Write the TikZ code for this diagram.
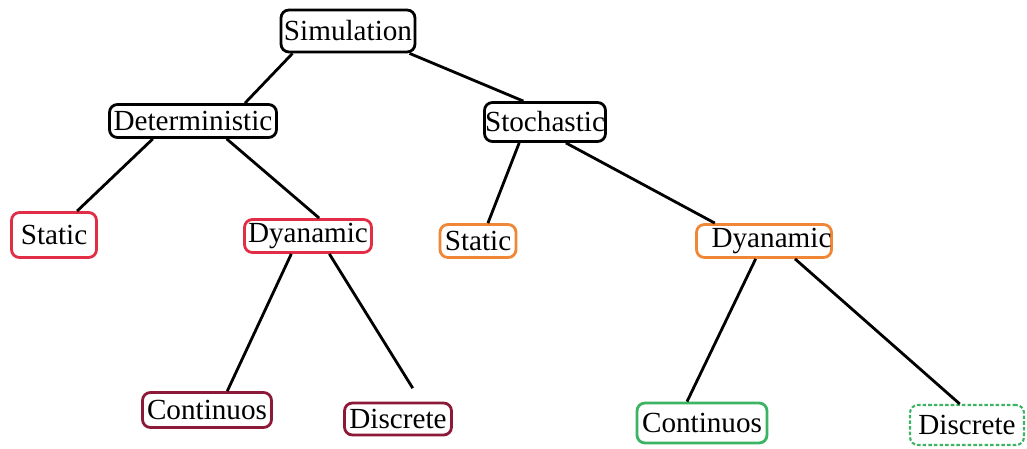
\documentclass[tikz,border=0pt]{standalone}
\usepackage{fontspec}
\setmainfont{Liberation Serif}
\definecolor{boxred}{RGB}{225, 45, 70}
\definecolor{boxorange}{RGB}{240, 135, 55}
\definecolor{boxmaroon}{RGB}{140, 25, 55}
\definecolor{boxgreen}{RGB}{60, 180, 100}

\begin{document}
\begin{tikzpicture}[x=0.02cm, y=-0.02cm,
    box/.style={draw, line width=1.6pt, rounded corners=4.5pt, inner sep=0pt, font=\fontsize{16.6}{18}\selectfont},
    link/.style={line width=1.6pt}]
    \useasboundingbox (0,0) rectangle (1027,449);

    % Root
    \node[box, minimum width=2.68cm, minimum height=0.84cm] (sim) at (348,31) {Simulation};

    % Second level
    \node[box, minimum width=3.34cm, minimum height=0.66cm] (det) at (193,121) {Deterministic};
    \node[box, minimum width=2.42cm, minimum height=0.78cm] (sto) at (545,122) {Stochastic};

    % Third level
    \node[box, draw=boxred, minimum width=1.70cm, minimum height=0.90cm] (st1) at (54,235) {Static};
    \node[box, draw=boxred, minimum width=2.54cm, minimum height=0.66cm] (dy1) at (308,236) {Dyanamic};
    \node[box, draw=boxorange, minimum width=1.52cm, minimum height=0.66cm] (st2) at (478,241) {Static};
    \node[box, draw=boxorange, minimum width=2.70cm, minimum height=0.66cm] (dy2) at (764,241) {\hspace{0.3cm}Dyanamic};

    % Leaves
    \node[box, draw=boxmaroon, minimum width=2.58cm, minimum height=0.70cm] (co1) at (207,410) {Continuos};
    \node[box, draw=boxmaroon, minimum width=2.14cm, minimum height=0.64cm] (di1) at (398,419) {Discrete};
    \node[box, draw=boxgreen, minimum width=2.60cm, minimum height=0.80cm] (co2) at (702,423) {Continuos};
    \node[box, draw=boxgreen, line width=1.2pt, dash pattern=on 2pt off 1.2pt, minimum width=2.28cm, minimum height=0.80cm] (di2) at (967,425) {Discrete};

    % Connections
    \draw[link] (sim.-158) -- (det.19);
    \draw[link] (sim.-20) -- (sto.136);
    \draw[link] (det.204) -- (st1.46);
    \draw[link] (det.-28) -- (dy1.58);
    \draw[link] (sto.-141) -- (st2.61);
    \draw[link] (sto.-45) -- (dy2.160);
    \draw[link] (dy1.-133) -- (co1.43);
    \draw[link, shorten >=9pt] (dy1.-40) -- (di1.37);
    \draw[link] (dy2.-115) -- (co2.125);
    \draw[link] (dy2.-30) -- (di2.109);
\end{tikzpicture}
\end{document}
